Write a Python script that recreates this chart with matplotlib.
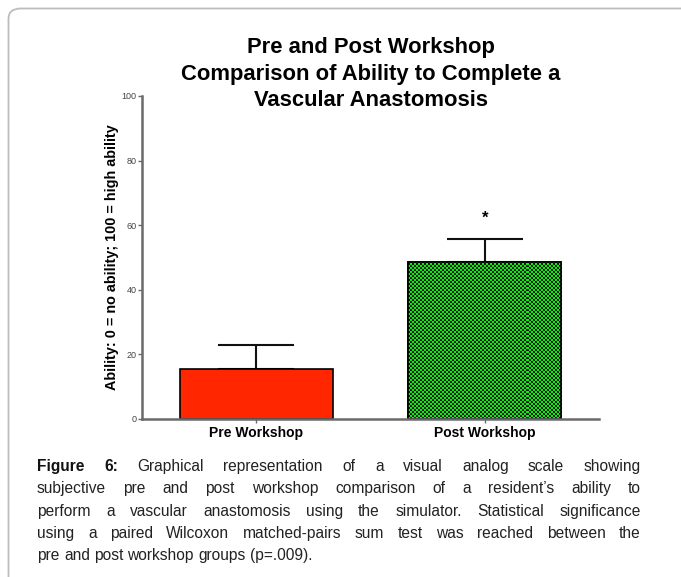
import numpy as np
import matplotlib
matplotlib.use('Agg')
import matplotlib.pyplot as plt
from matplotlib.colors import ListedColormap
from matplotlib.patches import FancyBboxPatch
from matplotlib import font_manager

# data
groups = ['Pre Workshop', 'Post Workshop']
means = [15.4, 48.5]
sems = [7.5, 7.3]
star_y = 62.0
yticks = [0, 20, 40, 60, 80, 100]

title_lines = ['Pre and Post Workshop',
               'Comparison of Ability to Complete a',
               'Vascular Anastomosis']
ylabel = 'Ability: 0 = no ability; 100 = high ability'
caption = [
    'Figure 6: Graphical representation of a visual analog scale showing',
    'subjective pre and post workshop comparison of a resident\u2019s ability to',
    'perform a vascular anastomosis using the simulator. Statistical significance',
    'using a paired Wilcoxon matched-pairs sum test was reached between the',
    'pre and post workshop groups (p=.009).',
]

installed = {f.name for f in font_manager.fontManager.ttflist}
sans = 'Liberation Sans' if 'Liberation Sans' in installed else 'DejaVu Sans'
if 'Liberation Sans Narrow' in installed:
    cap_font, cap_size = 'Liberation Sans Narrow', 12.2
else:
    cap_font, cap_size = sans, 11.2
plt.rcParams['font.family'] = [sans, 'DejaVu Sans']

W, H = 681, 577
fig = plt.figure(figsize=(W / 100, H / 100), dpi=100)

# outer frame with rounded top-left corner
frame = FancyBboxPatch((8.5 / W, -0.2), 1.2, 1.2 - 8.5 / H,
                       boxstyle='round,pad=0,rounding_size=0.018',
                       transform=fig.transFigure, fill=False,
                       edgecolor='#bdbdbd', linewidth=1.3)
fig.patches.append(frame)

ax = fig.add_axes([142 / W, 1 - 419 / H, 457 / W, 323 / H])
x = np.arange(len(groups))
ax.set_xlim(-0.5, 1.5)
ax.set_ylim(0, 100)

bars = ax.bar(x, means, width=0.67, color=['#ff2600', '#00f000'],
              edgecolor='black', linewidth=1.2, zorder=2)

# checkered fill on the second bar, cells snapped to the pixel grid
b = bars[1]
x0, w, h = b.get_x(), b.get_width(), b.get_height()
p0, p1 = ax.transData.transform([(x0, 0), (x0 + w, h)])
px0, py0 = np.floor(p0)
px1, py1 = np.ceil(p1)
nx = int((px1 - px0) // 2) + 1
ny = int((py1 - py0) // 2) + 1
e0, e1 = ax.transData.inverted().transform([(px0, py0),
                                            (px0 + 2 * nx, py0 + 2 * ny)])
checker = np.add.outer(np.arange(ny), np.arange(nx)) % 2
im = ax.imshow(checker, extent=(e0[0], e1[0], e0[1], e1[1]), aspect='auto',
               origin='lower', cmap=ListedColormap(['#00f800', '#151515']),
               interpolation='nearest', zorder=2.2)
im.set_clip_path(b)
ax.bar(x[1:], means[1:], width=0.67, fill=False, edgecolor='black',
       linewidth=1.2, zorder=2.5)
ax.set_xlim(-0.5, 1.5)
ax.set_ylim(0, 100)

ax.errorbar(x, means, yerr=[np.zeros(len(sems)), sems], fmt='none',
            ecolor='#111111', elinewidth=1.5, capsize=27.5, capthick=1.5,
            zorder=1.5)
ax.text(x[1], star_y, '*', ha='center', va='center', fontsize=12,
        fontweight='bold')

for s in ['top', 'right']:
    ax.spines[s].set_visible(False)
for s in ['left', 'bottom']:
    ax.spines[s].set_color('#6a6a6a')
    ax.spines[s].set_linewidth(1.8)

ax.set_yticks(yticks)
ax.set_yticklabels([str(v) for v in yticks], fontsize=6.5, color='#444444')
ax.tick_params(axis='y', length=3, width=1, color='#6a6a6a', pad=1)
ax.set_xticks(x)
ax.set_xticklabels(groups, fontsize=10, fontweight='bold')
ax.tick_params(axis='x', length=3, width=1, color='#6a6a6a', pad=2)
ax.set_ylabel(ylabel, fontsize=10.4, fontweight='bold', labelpad=2)

# title, three lines centred over the axes
for ty, line in zip([47, 74.5, 101], title_lines):
    fig.text(370.5 / W, 1 - ty / H, line, ha='center', va='center',
             fontsize=15.8, fontweight='bold')

# justified caption
renderer = fig.canvas.get_renderer()
left, right = 37, 641
baselines = [471, 493, 516, 538, 560]
for i, line in enumerate(caption):
    words = line.split(' ')
    items = []
    for j, wd in enumerate(words):
        bold = i == 0 and j < 2
        t = fig.text(0, 1 - baselines[i] / H, wd, fontsize=cap_size,
                     family=[cap_font, 'DejaVu Sans'],
                     fontweight='bold' if bold else 'normal',
                     color='#111111' if bold else '#222222',
                     va='baseline', ha='left')
        items.append(t)
    widths = [t.get_window_extent(renderer).width for t in items]
    if i < len(caption) - 1:
        gap = (right - left - sum(widths)) / (len(items) - 1)
    else:
        sp = fig.text(0, 0, 'a a', fontsize=cap_size, family=[cap_font])
        sp2 = fig.text(0, 0, 'aa', fontsize=cap_size, family=[cap_font])
        gap = sp.get_window_extent(renderer).width - sp2.get_window_extent(renderer).width
        sp.remove()
        sp2.remove()
    xpos = left
    for t, wdt in zip(items, widths):
        t.set_x(round(xpos) / W)
        xpos += wdt + gap

fig.savefig('out.png', dpi=100)
